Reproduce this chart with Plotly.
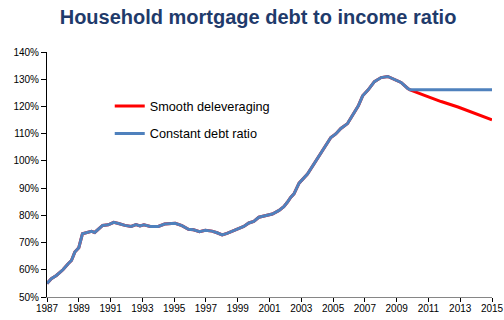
import plotly.graph_objects as go

# Historical ratio (decimal year, % of income)
hist_year = [1987.0, 1987.27, 1987.59, 1988.0, 1988.33, 1988.54, 1988.75, 1989.0, 1989.23, 1989.48,
             1989.8, 1990.0, 1990.2, 1990.5, 1990.85, 1991.2, 1991.5, 1991.9, 1992.3, 1992.6,
             1992.85, 1993.1, 1993.5, 1994.0, 1994.4, 1994.75, 1995.07, 1995.49, 1995.9, 1996.22,
             1996.6, 1996.96, 1997.38, 1997.7, 1998.02, 1998.33, 1998.65, 1999.07, 1999.38, 1999.7,
             2000.01, 2000.33, 2000.75, 2001.18, 2001.6, 2001.9, 2002.12, 2002.33, 2002.54, 2002.86,
             2003.39, 2003.8, 2004.12, 2004.54, 2004.86, 2005.17, 2005.49, 2005.91, 2006.23, 2006.59,
             2006.86, 2007.21, 2007.6, 2008.02, 2008.44, 2008.86, 2009.28, 2009.7, 2009.85]
hist_val = [55.0, 56.7, 57.9, 60.0, 62.2, 63.4, 66.5, 68.1, 73.2, 73.6,
            74.1, 73.7, 74.8, 76.3, 76.5, 77.4, 77.0, 76.3, 75.9, 76.6,
            76.1, 76.5, 75.9, 75.9, 76.8, 77.1, 77.1, 76.2, 74.9, 74.7,
            74.0, 74.5, 74.2, 73.6, 72.8, 73.4, 74.2, 75.4, 75.9, 77.2,
            77.8, 79.3, 79.9, 80.5, 81.8, 83.2, 84.8, 86.6, 87.9, 91.8,
            95.2, 98.9, 102.2, 105.9, 108.6, 109.9, 111.9, 113.7, 116.6, 120.2,
            123.9, 126.1, 129.1, 130.6, 131.0, 130.0, 128.8, 126.6, 126.1]

# Projections
smooth_year = [2010.75, 2011.8, 2012.86, 2013.9, 2015.0]
smooth_val = [124.1, 121.8, 119.8, 117.5, 115.1]
const_year = [2015.0]
const_val = [126.1]

x_ticks = list(range(1987, 2016, 2))
y_ticks = list(range(50, 141, 10))
y_tick_text = [f"{v}%" for v in y_ticks]

font_family = "Liberation Sans, Arial, sans-serif"

fig = go.Figure()
fig.add_trace(go.Scatter(
    x=hist_year + smooth_year, y=hist_val + smooth_val, mode="lines",
    name="Smooth deleveraging", line=dict(color="#FF0000", width=3),
    legendgroup="a"))
fig.add_trace(go.Scatter(
    x=hist_year + const_year, y=hist_val + const_val, mode="lines",
    name="Constant debt ratio", line=dict(color="#4F81BD", width=3),
    legendgroup="b"))

fig.update_layout(
    width=504, height=320,
    margin=dict(l=47, r=12, t=52, b=23, autoexpand=False),
    paper_bgcolor="white", plot_bgcolor="white",
    font=dict(family=font_family, size=10, color="#000000"),
    title=dict(text="<b>Household mortgage debt to income ratio</b>",
               font=dict(family=font_family, size=20, color="#1F3B6B"),
               x=0.512, xanchor="center", y=0.948, yanchor="middle"),
    showlegend=True,
    legend=dict(x=0.141, y=0.84, xanchor="left", yanchor="top",
                font=dict(family=font_family, size=12.7, color="#000000"),
                bgcolor="rgba(0,0,0,0)", tracegroupgap=8, itemwidth=30),
    xaxis=dict(range=[1987, 2015], tickmode="array", tickvals=x_ticks,
               ticktext=[str(t) for t in x_ticks], showgrid=False, zeroline=False,
               showline=True, linecolor="#868686", linewidth=1, automargin=False,
               ticks="outside", ticklen=4, tickcolor="#000000", tickwidth=1,
               ticklabelstandoff=-2),
    yaxis=dict(range=[50, 140], tickmode="array", tickvals=y_ticks, ticktext=y_tick_text,
               showgrid=False, zeroline=False, showline=True, linecolor="#000000",
               linewidth=1, automargin=False,
               ticks="outside", ticklen=5, tickcolor="#000000", tickwidth=1),
)

fig.write_html("out.html")
